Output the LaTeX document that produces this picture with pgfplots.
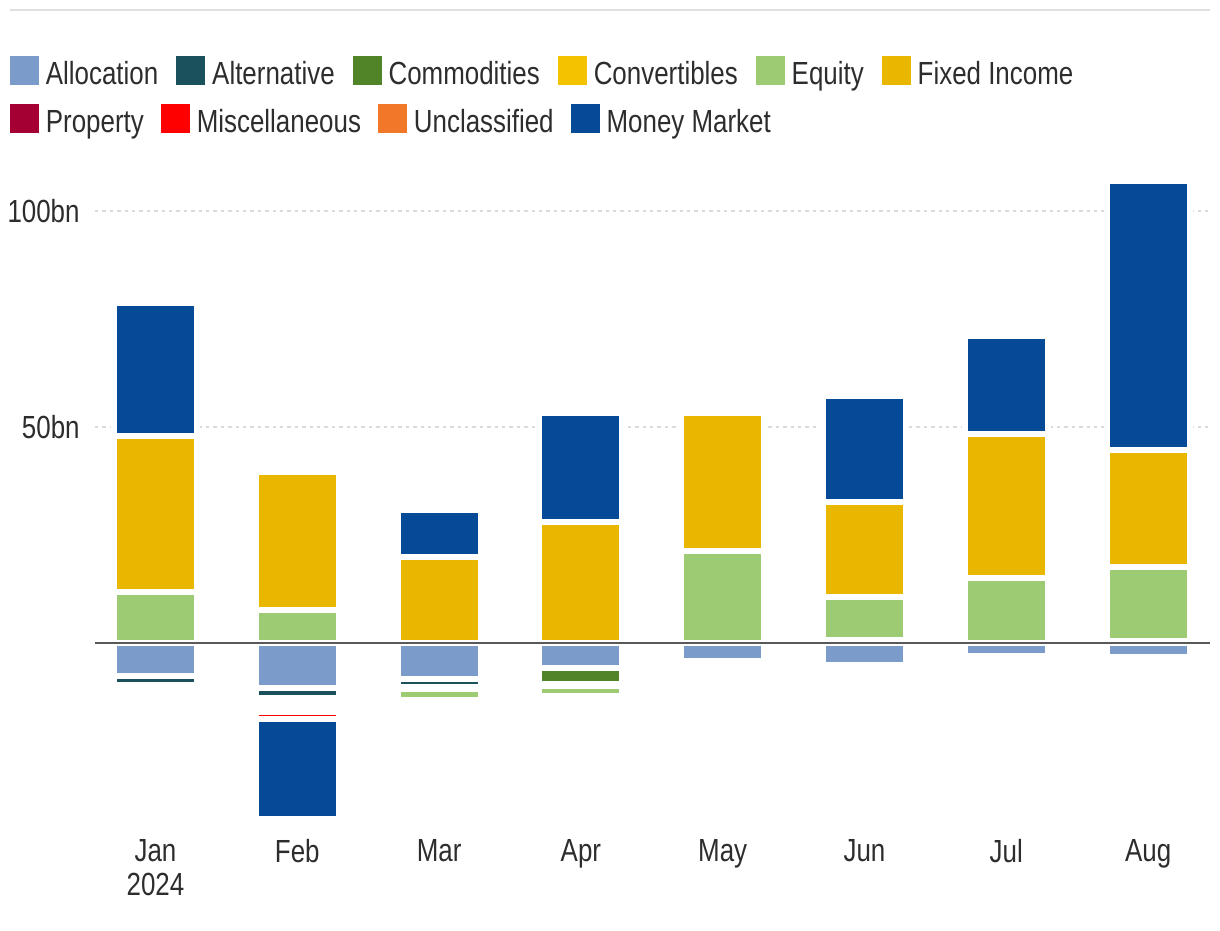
\documentclass[border=0pt]{standalone}
\usepackage{fontspec}
\setmainfont{Liberation Sans}[FakeStretch=0.81]
\usepackage{pgfplots}
\pgfplotsset{compat=1.18}
\definecolor{cAlloc}{RGB}{123,155,202}
\definecolor{cAlt}{RGB}{27,80,93}
\definecolor{cComm}{RGB}{81,132,40}
\definecolor{cConv}{RGB}{244,195,0}
\definecolor{cEq}{RGB}{157,203,115}
\definecolor{cFI}{RGB}{233,183,0}
\definecolor{cProp}{RGB}{165,0,52}
\definecolor{cMisc}{RGB}{255,0,0}
\definecolor{cUncl}{RGB}{240,120,40}
\definecolor{cMM}{RGB}{4,74,150}
\definecolor{txt}{RGB}{45,45,45}
\pgfplotsset{
  seg/.style={fill=#1, draw=white, line width=3pt,
    legend image code/.code={\fill[#1] (0pt,-3.6pt) rectangle (11.46pt,7.86pt);}},
  base/.style={
    width=557.5pt, height=328.32pt, scale only axis,
    xmin=-0.4267, xmax=7.4365, ymin=-42, ymax=110,
    ybar stacked, bar width=0.586, clip=false,
    legend cell align=left,
    legend style={draw=none, fill=none, inner sep=0pt, outer sep=0pt,
      nodes={inner sep=0pt, text=txt},
      font=\fontsize{16}{19}\selectfont,
      anchor=north west,
      /tikz/every odd column/.append style={column sep=3.5pt}},
  },
}
\begin{document}
\begin{tikzpicture}
% ---------- positive flows ----------
\begin{axis}[base,
  axis line style={draw=none}, major tick length=0pt,
  xtick={0,...,7}, xticklabels={{Jan\\2024},Feb,Mar,Apr,May,Jun,Jul,Aug},
  ytick={50,100}, yticklabels={50bn,100bn},
  ymajorgrids, major grid style={draw=black!14, line width=0.75pt, dash pattern=on 1.7pt off 2pt},
  tick label style={font=\fontsize{16}{17}\selectfont, text=txt},
  xticklabel style={align=center, anchor=north, inner sep=0pt, yshift=-7.3pt},
  yticklabel style={anchor=east, inner sep=0pt, xshift=-7.5pt},
  legend columns=6,
  legend style={at={(-0.07623,1.1703)},
    /tikz/every even column/.append style={column sep=9pt}},
]
\addplot[seg=cAlloc] coordinates {(0,0) (1,0) (2,0) (3,0) (4,0) (5,0) (6,0) (7,0)};
\addplot[seg=cAlt]   coordinates {(0,0) (1,0) (2,0) (3,0) (4,0) (5,0.8) (6,0) (7,0.5)};
\addplot[seg=cComm]  coordinates {(0,0) (1,0) (2,0) (3,0) (4,0) (5,0) (6,0) (7,0)};
\addplot[seg=cConv]  coordinates {(0,0) (1,0) (2,0) (3,0) (4,0) (5,0) (6,0) (7,0)};
\addplot[seg=cEq]    coordinates {(0,11.8) (1,7.6) (2,0) (3,0) (4,21.3) (5,9.85) (6,15.0) (7,17.1)};
\addplot[seg=cFI]    coordinates {(0,36.2) (1,32.0) (2,20.0) (3,28.1) (4,31.9) (5,22.1) (6,33.3) (7,27.0)};
\addplot[seg=cProp]  coordinates {(0,0) (1,0) (2,0) (3,0) (4,0) (5,0) (6,0) (7,0)};
\addplot[seg=cMisc]  coordinates {(0,0) (1,0) (2,0) (3,0) (4,0) (5,0) (6,0) (7,0)};
\addplot[seg=cUncl]  coordinates {(0,0) (1,0) (2,0) (3,0) (4,0) (5,0) (6,0) (7,0)};
\addplot[seg=cMM]    coordinates {(0,30.7) (1,0) (2,10.8) (3,25.1) (4,0) (5,24.4) (6,22.7) (7,62.3)};
\legend{Allocation,Alternative,Commodities,Convertibles,Equity,Fixed Income}
\draw[black!12, line width=0.75pt] (axis cs:-1.0261,146.53) -- (axis cs:7.4365,146.53);
\path (axis cs:-1.0966,-66.44) rectangle (axis cs:7.5071,148.84);
\end{axis}
% ---------- negative flows ----------
\begin{axis}[base, hide axis,
  legend columns=4,
  legend style={at={(-0.07623,1.0972)},
    /tikz/every even column/.append style={column sep=8.5pt}},
]
\addlegendimage{seg=cProp}
\addlegendimage{seg=cMisc}
\addlegendimage{seg=cUncl}
\addlegendimage{seg=cMM}
\addplot[seg=cAlloc] coordinates {(0,-7.6) (1,-10.35) (2,-8.3) (3,-5.7) (4,-4.2) (5,-5.1) (6,-3.0) (7,-3.2)};
\addplot[seg=cAlt]   coordinates {(0,-2.1) (1,-2.4) (2,-1.85) (3,0) (4,0) (5,0) (6,0) (7,0)};
\addplot[seg=cComm]  coordinates {(0,0) (1,0) (2,0) (3,-3.7) (4,0) (5,0) (6,0) (7,0)};
\addplot[seg=cConv]  coordinates {(0,0) (1,0) (2,-0.45) (3,-0.5) (4,0) (5,0) (6,0) (7,0)};
\addplot[seg=cEq]    coordinates {(0,0) (1,0) (2,-2.5) (3,-2.3) (4,0) (5,0) (6,0) (7,0)};
\addplot[seg=cFI]    coordinates {(0,0) (1,0) (2,0) (3,0) (4,0) (5,0) (6,0) (7,0)};
\addplot[draw=none, fill=none] coordinates {(0,0) (1,-3.17) (2,0) (3,0) (4,0) (5,0) (6,0) (7,0)};
\addplot[seg=cProp]  coordinates {(0,0) (1,0) (2,0) (3,0) (4,0) (5,0) (6,0) (7,0)};
\addplot[seg=cMisc]  coordinates {(0,0) (1,-1.62) (2,0) (3,0) (4,0) (5,0) (6,0) (7,0)};
\addplot[seg=cUncl]  coordinates {(0,0) (1,0) (2,0) (3,0) (4,0) (5,0) (6,0) (7,0)};
\addplot[seg=cMM]    coordinates {(0,0) (1,-23.2) (2,0) (3,0) (4,0) (5,0) (6,0) (7,0)};
\legend{Property,Miscellaneous,Unclassified,Money Market}
\coordinate (zl) at (axis cs:-0.4267,0);
\coordinate (zr) at (axis cs:7.4365,0);
\end{axis}
\draw[draw=black!65, line width=1pt] (zl) -- (zr);
\end{tikzpicture}
\end{document}
